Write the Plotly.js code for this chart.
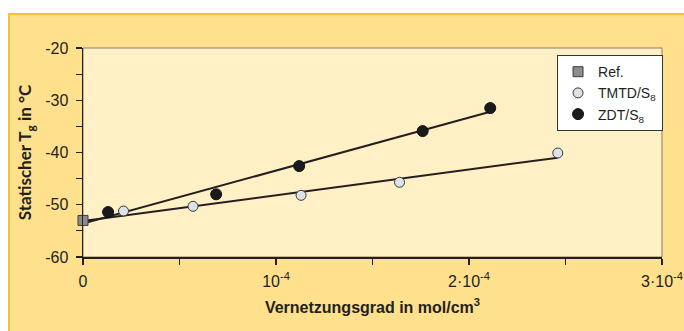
<!DOCTYPE html>
<html><head><meta charset="utf-8">
<script src="https://cdn.plot.ly/plotly-3.0.1.min.js"></script>
<style>html,body{margin:0;padding:0;background:#fff;}#chart{width:684px;height:331px;}</style>
</head><body><div id="chart"></div>
<script>
// Data
var refX = [0];
var refY = [-53.0];
var tmtdX = [2.1e-5, 5.7e-5, 1.13e-4, 1.64e-4, 2.46e-4];
var tmtdY = [-51.2, -50.3, -48.2, -45.7, -40.1];
var zdtX = [1.3e-5, 6.9e-5, 1.12e-4, 1.76e-4, 2.11e-4];
var zdtY = [-51.4, -48.0, -42.6, -35.9, -31.5];
// fitted regression lines (endpoints)
var tmtdFitX = [0, 2.46e-4];
var tmtdFitY = [-53.1, -41.0];
var zdtFitX = [0, 2.11e-4];
var zdtFitY = [-53.6, -32.2];
var xTickVals = [0, 1e-4, 2e-4, 3e-4];
var xTickText = ['0', '10<sup>-4</sup>', '2·10<sup>-4</sup>', '3·10<sup>-4</sup>'];
var yTickVals = [-60, -50, -40, -30, -20];
var yTickText = ['-60', '-50', '-40', '-30', '-20'];

var sans = 'Liberation Sans, Arial, sans-serif';
var ink = '#231f20';

var traces = [
  {x: tmtdFitX, y: tmtdFitY, mode: 'lines', line: {color: ink, width: 2}, showlegend: false, hoverinfo: 'skip'},
  {x: zdtFitX, y: zdtFitY, mode: 'lines', line: {color: ink, width: 2}, showlegend: false, hoverinfo: 'skip'},
  {x: refX, y: refY, mode: 'markers', name: 'Ref.', cliponaxis: false,
   marker: {symbol: 'square', size: 10, color: '#8c8c8c', line: {color: '#3a3a3a', width: 1}}},
  {x: tmtdX, y: tmtdY, mode: 'markers', name: 'TMTD/S<sub>8</sub>', cliponaxis: false,
   marker: {symbol: 'circle', size: 10, color: '#dde1e8', line: {color: '#3a3a3a', width: 1}}},
  {x: zdtX, y: zdtY, mode: 'markers', name: 'ZDT/S<sub>8</sub>', cliponaxis: false,
   marker: {symbol: 'circle', size: 11, color: '#1a1a1a', line: {color: '#111', width: 1}}}
];

var layout = {
  width: 684, height: 331,
  margin: {l: 83, r: 22, t: 48, b: 74, pad: 0},
  paper_bgcolor: '#ffffff',
  plot_bgcolor: 'rgba(0,0,0,0)',
  showlegend: true,
  font: {family: sans, color: ink, size: 15},
  xaxis: {
    range: [0, 3e-4], tickmode: 'array', tickvals: xTickVals, ticktext: xTickText,
    ticks: 'outside', ticklen: 6, tickwidth: 1.2, tickcolor: ink, ticklabelstandoff: 3,
    minor: {tickmode: 'linear', tick0: 0, dtick: 5e-5, ticks: 'outside', ticklen: 6, tickwidth: 1.2, tickcolor: ink, showgrid: false},
    showline: true, linecolor: ink, linewidth: 1.5, showgrid: false, zeroline: false,
    tickfont: {family: sans, size: 16, color: ink},
    title: {text: 'Vernetzungsgrad in mol/cm<sup>3</sup>', standoff: 13,
            font: {family: sans, size: 16, color: ink, weight: 'bold'}}
  },
  yaxis: {
    range: [-60, -20], tickmode: 'array', tickvals: yTickVals, ticktext: yTickText,
    ticks: 'outside', ticklen: 6, tickwidth: 1.2, tickcolor: ink, ticklabelstandoff: 4,
    minor: {tickmode: 'linear', tick0: 0, dtick: 5, ticks: 'outside', ticklen: 6, tickwidth: 1.2, tickcolor: ink, showgrid: false},
    showline: true, linecolor: ink, linewidth: 1.5, showgrid: false, zeroline: false,
    tickfont: {family: sans, size: 16, color: ink},
    title: {text: 'Statischer T<sub>g</sub> in °C', standoff: 9,
            font: {family: 'Lato, sans-serif', size: 17, color: ink, weight: 'bold'}}
  },
  legend: {
    x: 0.8187, y: 0.966, xanchor: 'left', yanchor: 'top',
    bgcolor: '#ffffff', bordercolor: '#333333', borderwidth: 1,
    font: {family: sans, size: 14, color: ink},
    itemwidth: 30, tracegroupgap: 0
  },
  shapes: [
    {type: 'rect', xref: 'paper', yref: 'paper', x0: -0.1278, x1: 1.1, y0: -0.4, y1: 1.1627,
     fillcolor: '#ffe08c', line: {color: '#f9c22a', width: 2}, layer: 'below'},
    {type: 'rect', xref: 'paper', yref: 'paper', x0: 0, x1: 1, y0: 0, y1: 1,
     fillcolor: '#fff0c6', line: {color: '#8a7d66', width: 1}, layer: 'below'}
  ]
};

Plotly.newPlot('chart', traces, layout, {staticPlot: true, displayModeBar: false});
</script></body></html>
